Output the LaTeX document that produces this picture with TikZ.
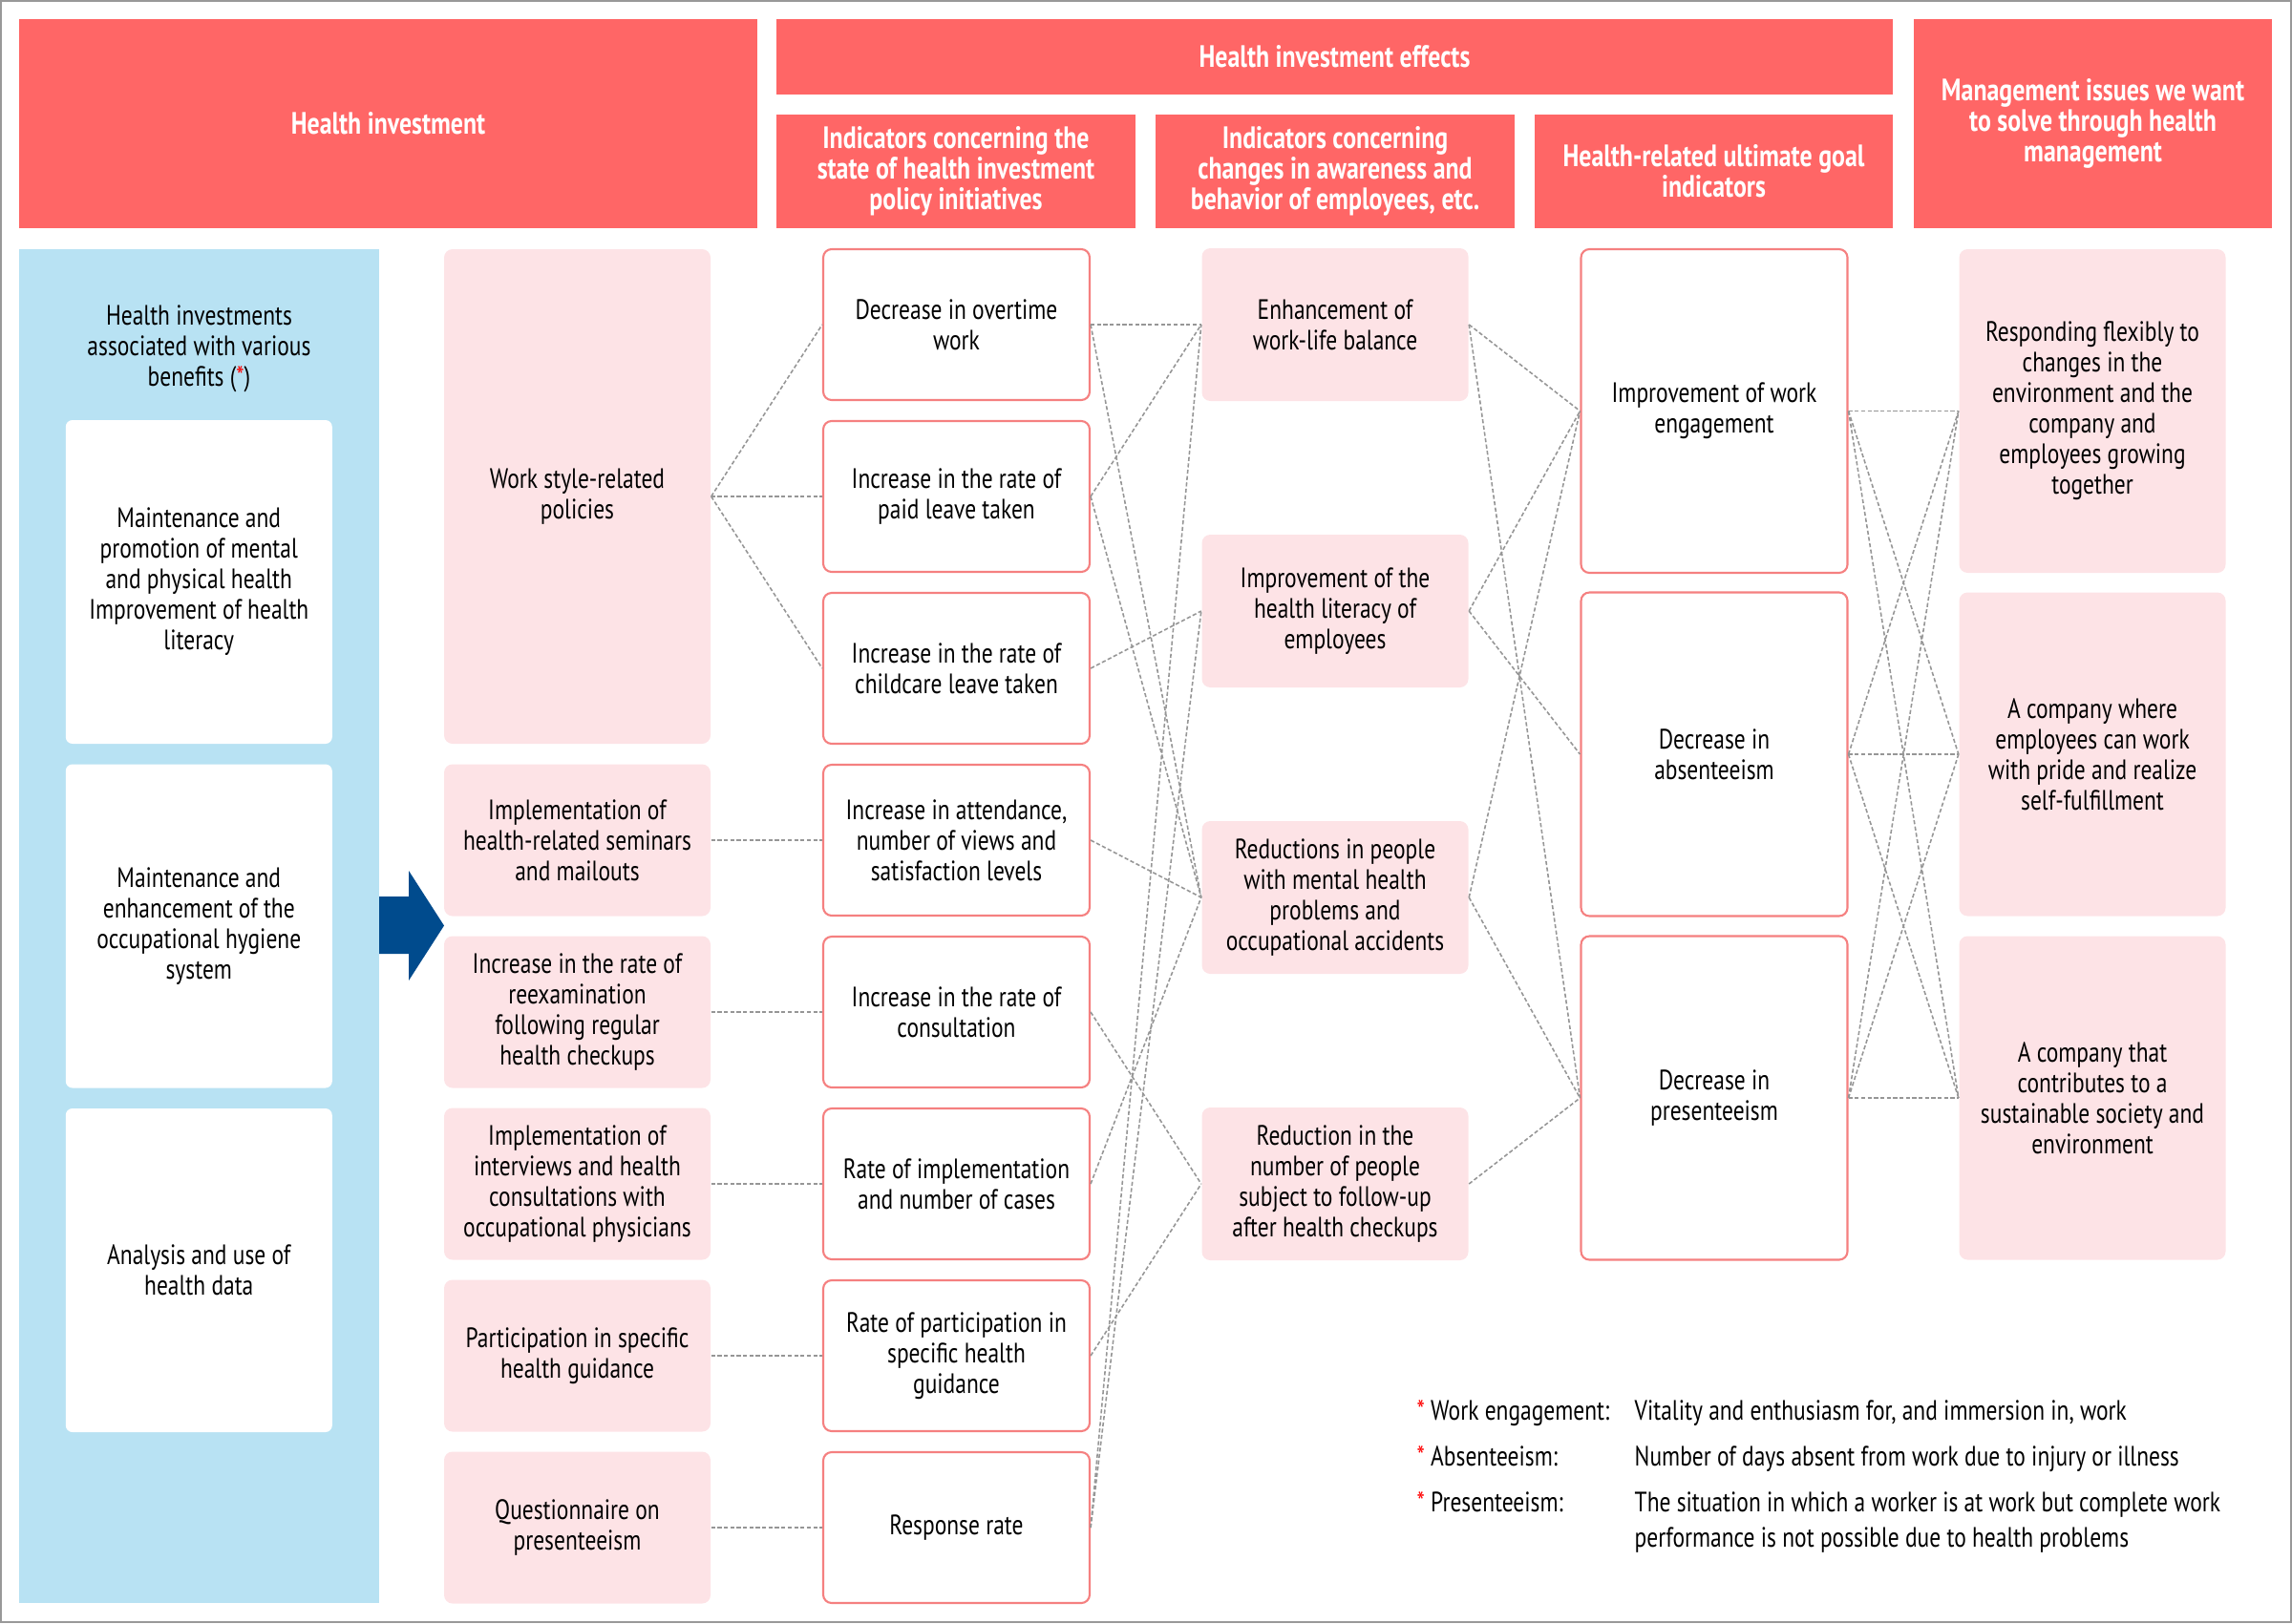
\documentclass[tikz,border=0pt]{standalone}
\usepackage{fontspec}
\setmainfont{PT Sans}[FakeStretch=0.8]
\usepackage{tikz}
\definecolor{hdred}{RGB}{255,102,102}
\definecolor{pinkbg}{RGB}{253,227,230}
\definecolor{panelblue}{RGB}{184,226,243}
\definecolor{boxred}{RGB}{245,128,128}
\definecolor{linkgray}{RGB}{150,150,150}
\definecolor{arrowblue}{RGB}{0,75,141}
\definecolor{framegray}{RGB}{153,153,153}

\begin{document}
\begin{tikzpicture}[font=\fontsize{8.35}{9.1}\selectfont,
    head/.style={fill=hdred, text=white, font=\fontsize{9.2}{9.1}\selectfont\bfseries, align=center, inner sep=0pt},
    panel/.style={fill=panelblue, inner sep=0pt},
    wbox/.style={fill=white, rounded corners=2pt, align=center, inner sep=0pt, minimum width=2.79cm, minimum height=3.39cm},
    pinkbox/.style={fill=pinkbg, rounded corners=2.5pt, align=center, inner sep=0pt, minimum width=2.79cm},
    redbox/.style={draw=boxred, fill=white, line width=0.6pt, rounded corners=2.5pt, align=center, inner sep=0pt, minimum width=2.79cm},
    link/.style={draw=linkgray, dash pattern=on 1.2pt off 0.7pt, line width=0.45pt},
    note/.style={inner sep=0pt}]
  \useasboundingbox (0,0) rectangle (24,-17);
  \draw[framegray, line width=0.02cm] (0.01,-0.01) rectangle (23.99,-16.99);

      \node[head, minimum width=7.73cm, minimum height=2.19cm] (hinv) at (4.065,-1.295) {Health investment};
      \node[head, minimum width=11.69cm, minimum height=0.79cm] (heff) at (13.975,-0.595) {Health investment effects};
      \node[head, minimum width=3.76cm, minimum height=1.19cm] (hstate) at (10.01,-1.795) {Indicators concerning the\\state of health investment\\policy initiatives};
      \node[head, minimum width=3.76cm, minimum height=1.19cm] (haware) at (13.98,-1.795) {Indicators concerning\\changes in awareness and\\behavior of employees, etc.};
      \node[head, minimum width=3.75cm, minimum height=1.19cm] (hgoal) at (17.945,-1.795) {Health-related ultimate goal\\indicators};
      \node[head, minimum width=3.75cm, minimum height=2.19cm] (hmgmt) at (21.915,-1.295) {Management issues we want\\to solve through health\\management};

      \node[panel, minimum width=3.77cm, minimum height=14.18cm] (panel) at (2.085,-9.70) {};
      \node[align=center, inner sep=0pt] (ptitle) at (2.085,-3.65) {Health investments\\associated with various\\benefits (\textcolor{red}{*})};
      \node[wbox] (w1) at (2.083,-6.095) {Maintenance and\\promotion of mental\\and physical health\\Improvement of health\\literacy};
      \node[wbox] (w2) at (2.083,-9.70) {Maintenance and\\enhancement of the\\occupational hygiene\\system};
      \node[wbox] (w3) at (2.083,-13.305) {Analysis and use of\\health data};
  \fill[arrowblue] (3.97,-9.39) -- (4.28,-9.39) -- (4.28,-9.12) -- (4.65,-9.695) -- (4.28,-10.27) -- (4.28,-9.99) -- (3.97,-9.99) -- cycle;

      \node[pinkbox, minimum height=5.18cm] (b1) at (6.045,-5.20) {Work style-related\\policies};
      \node[pinkbox, minimum height=1.59cm] (b2) at (6.045,-8.80) {Implementation of\\health-related seminars\\and mailouts};
      \node[pinkbox, minimum height=1.59cm] (b3) at (6.045,-10.60) {Increase in the rate of\\reexamination\\following regular\\health checkups};
      \node[pinkbox, minimum height=1.59cm] (b4) at (6.045,-12.40) {Implementation of\\interviews and health\\consultations with\\occupational physicians};
      \node[pinkbox, minimum height=1.59cm] (b5) at (6.045,-14.20) {Participation in specific\\health guidance};
      \node[pinkbox, minimum height=1.59cm] (b6) at (6.045,-16.00) {Questionnaire on\\presenteeism};

      \node[redbox, minimum height=1.58cm] (c1) at (10.015,-3.40) {Decrease in overtime\\work};
      \node[redbox, minimum height=1.58cm] (c2) at (10.015,-5.20) {Increase in the rate of\\paid leave taken};
      \node[redbox, minimum height=1.58cm] (c3) at (10.015,-7.00) {Increase in the rate of\\childcare leave taken};
      \node[redbox, minimum height=1.58cm] (c4) at (10.015,-8.80) {Increase in attendance,\\number of views and\\satisfaction levels};
      \node[redbox, minimum height=1.58cm] (c5) at (10.015,-10.60) {Increase in the rate of\\consultation};
      \node[redbox, minimum height=1.58cm] (c6) at (10.015,-12.40) {Rate of implementation\\and number of cases};
      \node[redbox, minimum height=1.58cm] (c7) at (10.015,-14.20) {Rate of participation in\\specific health\\guidance};
      \node[redbox, minimum height=1.58cm] (c8) at (10.015,-16.00) {Response rate};

      \node[pinkbox, minimum height=1.60cm] (d1) at (13.98,-3.40) {Enhancement of\\work-life balance};
      \node[pinkbox, minimum height=1.60cm] (d2) at (13.98,-6.40) {Improvement of the\\health literacy of\\employees};
      \node[pinkbox, minimum height=1.60cm] (d3) at (13.98,-9.40) {Reductions in people\\with mental health\\problems and\\occupational accidents};
      \node[pinkbox, minimum height=1.60cm] (d4) at (13.98,-12.40) {Reduction in the\\number of people\\subject to follow-up\\after health checkups};

      \node[redbox, minimum height=3.39cm] (e1) at (17.95,-4.305) {Improvement of work\\engagement};
      \node[redbox, minimum height=3.39cm] (e2) at (17.95,-7.90) {Decrease in\\absenteeism};
      \node[redbox, minimum height=3.39cm] (e3) at (17.95,-11.50) {Decrease in\\presenteeism};

      \node[pinkbox, minimum height=3.39cm] (f1) at (21.91,-4.305) {Responding flexibly to\\changes in the\\environment and the\\company and\\employees growing\\together};
      \node[pinkbox, minimum height=3.39cm] (f2) at (21.91,-7.90) {A company where\\employees can work\\with pride and realize\\self-fulfillment};
      \node[pinkbox, minimum height=3.39cm] (f3) at (21.91,-11.50) {A company that\\contributes to a\\sustainable society and\\environment};

    \draw[link] (b1.east) -- (c1.west);
    \draw[link] (b1.east) -- (c2.west);
    \draw[link] (b1.east) -- (c3.west);
    \draw[link] (b2.east) -- (c4.west);
    \draw[link] (b3.east) -- (c5.west);
    \draw[link] (b4.east) -- (c6.west);
    \draw[link] (b5.east) -- (c7.west);
    \draw[link] (b6.east) -- (c8.west);

    \draw[link] (c1.east) -- (d1.west);
    \draw[link] (c1.east) -- (d3.west);
    \draw[link] (c2.east) -- (d1.west);
    \draw[link] (c2.east) -- (d3.west);
    \draw[link] (c3.east) -- (d2.west);
    \draw[link] (c4.east) -- (d3.west);
    \draw[link] (c5.east) -- (d4.west);
    \draw[link] (c6.east) -- (d3.west);
    \draw[link] (c7.east) -- (d4.west);
    \draw[link] (c8.east) -- (d1.west);
    \draw[link] (c8.east) -- (d2.west);

    \draw[link] (d1.east) -- (e1.west);
    \draw[link] (d1.east) -- (e3.west);
    \draw[link] (d2.east) -- (e1.west);
    \draw[link] (d2.east) -- (e2.west);
    \draw[link] (d3.east) -- (e1.west);
    \draw[link] (d3.east) -- (e3.west);
    \draw[link] (d4.east) -- (e3.west);

    \draw[link] (e1.east) -- (f1.west);
    \draw[link] (e1.east) -- (f2.west);
    \draw[link] (e1.east) -- (f3.west);
    \draw[link] (e2.east) -- (f1.west);
    \draw[link] (e2.east) -- (f2.west);
    \draw[link] (e2.east) -- (f3.west);
    \draw[link] (e3.east) -- (f1.west);
    \draw[link] (e3.east) -- (f2.west);
    \draw[link] (e3.east) -- (f3.west);

      \node[note, anchor=base west] (k1) at (14.83,-14.87) {\textcolor{red}{*} Work engagement:};
      \node[note, anchor=base west] (t1) at (17.11,-14.87) {Vitality and enthusiasm for, and immersion in, work};
      \node[note, anchor=base west] (k2) at (14.83,-15.35) {\textcolor{red}{*} Absenteeism:};
      \node[note, anchor=base west] (t2) at (17.11,-15.35) {Number of days absent from work due to injury or illness};
      \node[note, anchor=base west] (k3) at (14.83,-15.83) {\textcolor{red}{*} Presenteeism:};
      \node[note, anchor=base west] (t3) at (17.11,-15.83) {The situation in which a worker is at work but complete work};
      \node[note, anchor=base west] (t4) at (17.11,-16.20) {performance is not possible due to health problems};
\end{tikzpicture}
\end{document}
